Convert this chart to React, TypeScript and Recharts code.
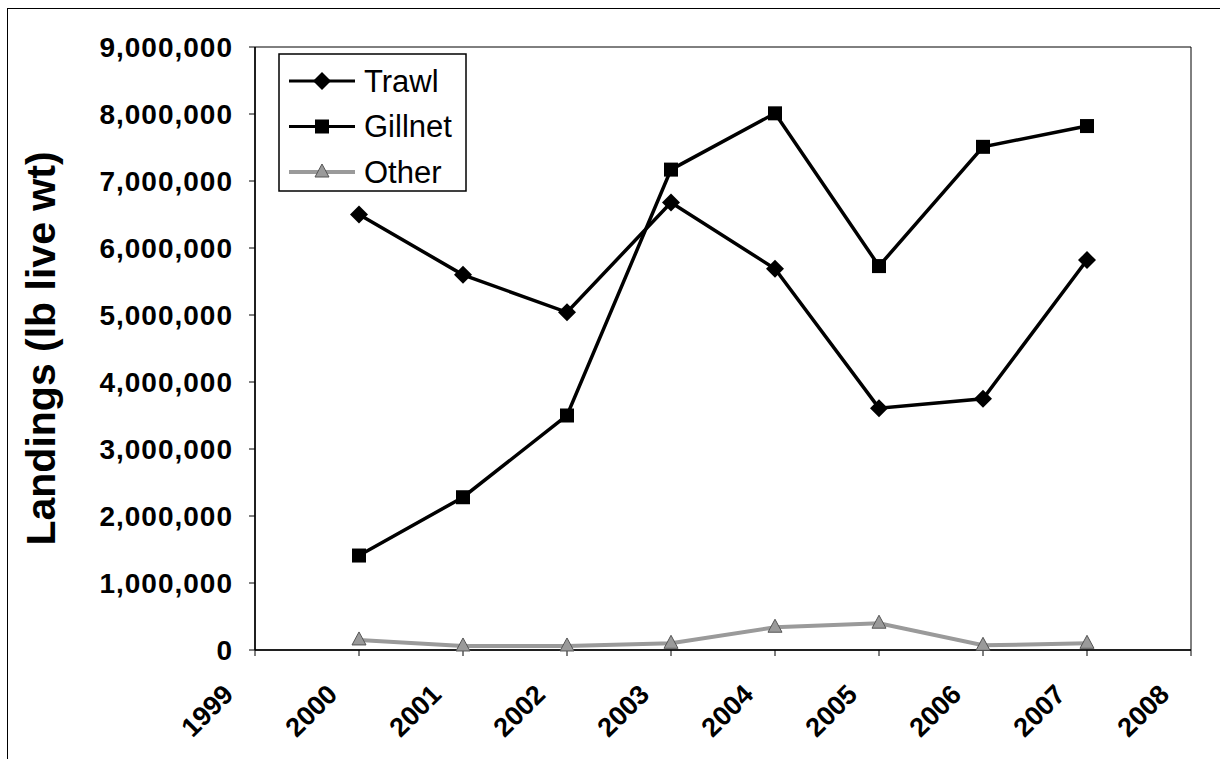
import React from "react"
import {
  LineChart,
  Line,
  XAxis,
  YAxis,
  ReferenceArea,
} from "recharts"

const years = [2000, 2001, 2002, 2003, 2004, 2005, 2006, 2007]
const trawl = [6500000, 5600000, 5040000, 6680000, 5690000, 3610000, 3750000, 5820000]
const gillnet = [1410000, 2280000, 3500000, 7170000, 8010000, 5730000, 7510000, 7820000]
const other = [150000, 60000, 60000, 100000, 340000, 400000, 70000, 100000]

const xTicks = [1999, 2000, 2001, 2002, 2003, 2004, 2005, 2006, 2007, 2008]
const yTicks = [0, 1000000, 2000000, 3000000, 4000000, 5000000, 6000000, 7000000, 8000000, 9000000]

const FONT = "'Liberation Sans', Arial, Helvetica, sans-serif"
const OTHER_GRAY = "#9a9a9a"

const data = years.map((year, i) => ({
  year,
  Trawl: trawl[i],
  Gillnet: gillnet[i],
  Other: other[i],
}))

function Diamond({ cx, cy }: { cx: number; cy: number }) {
  const r = 9
  return (
    <polygon
      points={`${cx},${cy - r} ${cx + r},${cy} ${cx},${cy + r} ${cx - r},${cy}`}
      fill="#000"
    />
  )
}

function Square({ cx, cy }: { cx: number; cy: number }) {
  return <rect x={cx - 7} y={cy - 7} width={14} height={14} fill="#000" />
}

function Triangle({ cx, cy }: { cx: number; cy: number }) {
  return (
    <polygon
      points={`${cx},${cy - 8} ${cx + 7},${cy + 5} ${cx - 7},${cy + 5}`}
      fill={OTHER_GRAY}
      stroke="#555"
      strokeWidth={1}
    />
  )
}

// rotated year labels, ending just left of each tick
function XTick(props: any) {
  const { x, y, payload } = props
  const ax = x - 20
  const ay = y + 38
  return (
    <text
      x={ax}
      y={ay}
      transform={`rotate(-45, ${ax}, ${ay})`}
      textAnchor="end"
      fontFamily={FONT}
      fontWeight="bold"
      fontSize={27}
      fill="#000"
    >
      {payload.value}
    </text>
  )
}

function YLabel(props: any) {
  const { viewBox } = props
  const cx = 41
  const cy = viewBox.y + viewBox.height / 2
  return (
    <text
      x={cx}
      y={cy}
      transform={`rotate(-90, ${cx}, ${cy})`}
      textAnchor="middle"
      dominantBaseline="central"
      fontFamily={FONT}
      fontWeight="bold"
      fontSize={41}
      fill="#000"
    >
      Landings (lb live wt)
    </text>
  )
}

const legendRows = [
  { name: "Trawl", marker: Diamond, color: "#000", width: 3 },
  { name: "Gillnet", marker: Square, color: "#000", width: 3 },
  { name: "Other", marker: Triangle, color: OTHER_GRAY, width: 4 },
]

function LegendBox() {
  return (
    <svg width={190} height={140} style={{ display: "block" }}>
      <rect x={1} y={1} width={187} height={137} fill="#fff" stroke="#000" strokeWidth={1.5} />
      {legendRows.map((row, i) => {
        const cy = 28 + i * 45.5
        const M = row.marker
        return (
          <g key={row.name}>
            <line x1={11} x2={77} y1={cy} y2={cy} stroke={row.color} strokeWidth={row.width} />
            <M cx={44} cy={cy} />
            <text
              x={86}
              y={cy}
              dominantBaseline="central"
              fontFamily={FONT}
              fontSize={31}
              fill="#000"
            >
              {row.name}
            </text>
          </g>
        )
      })}
    </svg>
  )
}

export default function App() {
  return (
    <div style={{ position: "absolute", left: 0, top: 0, width: 1220, height: 759, overflow: "hidden", background: "#fff" }}>
      <div
        style={{
          position: "absolute",
          left: 7,
          top: 8,
          width: 1240,
          height: 780,
          border: "1.5px solid #000",
        }}
      />
      <div style={{ position: "absolute", left: 0, top: 0 }}>
        <LineChart
          width={1220}
          height={759}
          data={data}
          margin={{ top: 47, right: 29, bottom: 79, left: 0 }}
        >
          <ReferenceArea
            x1={1999}
            x2={2008}
            y1={0}
            y2={9000000}
            fill="none"
            stroke="#000"
            strokeWidth={1}
            ifOverflow="visible"
          />
          <XAxis
            dataKey="year"
            type="number"
            domain={[1999, 2008]}
            ticks={xTicks}
            interval={0}
            height={30}
            tickSize={6}
            tickMargin={2}
            axisLine={{ stroke: "#000", strokeWidth: 1.5 }}
            tickLine={{ stroke: "#000" }}
            tick={<XTick />}
          />
          <YAxis
            width={255}
            domain={[0, 9000000]}
            ticks={yTicks}
            interval={0}
            tickSize={6}
            tickMargin={16}
            axisLine={{ stroke: "#000", strokeWidth: 1.5 }}
            tickLine={{ stroke: "#000" }}
            tick={{ fontSize: 28, fontWeight: "bold", fill: "#000", fontFamily: FONT, letterSpacing: 1 }}
            tickFormatter={(v: number) => v.toLocaleString("en-US")}
            label={<YLabel />}
          />
          <Line
            dataKey="Other"
            stroke={OTHER_GRAY}
            strokeWidth={4}
            isAnimationActive={false}
            dot={(p: any) => <Triangle key={`o-${p.index}`} cx={p.cx} cy={p.cy} />}
            activeDot={false}
          />
          <Line
            dataKey="Trawl"
            stroke="#000"
            strokeWidth={3.5}
            isAnimationActive={false}
            dot={(p: any) => <Diamond key={`t-${p.index}`} cx={p.cx} cy={p.cy} />}
            activeDot={false}
          />
          <Line
            dataKey="Gillnet"
            stroke="#000"
            strokeWidth={3.5}
            isAnimationActive={false}
            dot={(p: any) => <Square key={`g-${p.index}`} cx={p.cx} cy={p.cy} />}
            activeDot={false}
          />
        </LineChart>
      </div>
      <div style={{ position: "absolute", left: 278, top: 53 }}>
        <LegendBox />
      </div>
    </div>
  )
}
